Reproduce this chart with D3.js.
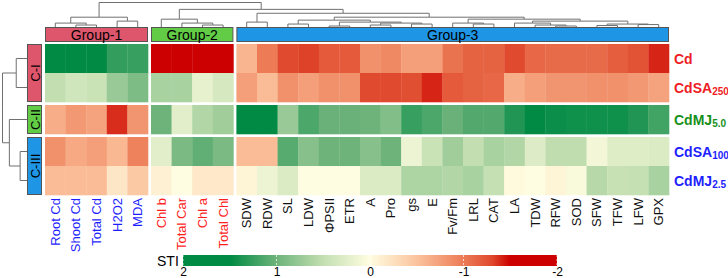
<!DOCTYPE html>
<meta charset="utf-8">
<style>
  body { margin: 0; background: #fff; }
  svg text { font-family: "Liberation Sans", Arial, sans-serif; }
  .dendro { fill: none; stroke: #707070; stroke-width: 1; }
</style>
<body>
<svg width="728" height="278"></svg>

<script src="https://cdn.jsdelivr.net/npm/d3@7/dist/d3.min.js"></script>
<script>

// column groups (traits)
var group1 = ["Root Cd", "Shoot Cd", "Total Cd", "H2O2", "MDA"];
var group2 = ["Chl b", "Total Car", "Chl a", "Total Chl"];
var group3 = ["SDW", "RDW", "SL", "LDW", "ΦPSII", "ETR", "A", "Pro", "gs", "E",
              "Fv/Fm", "LRL", "CAT", "LA", "TDW", "RFW", "SOD", "SFW", "TFW", "LFW", "GPX"];
var groupNames = ["Group-1", "Group-2", "Group-3"];

// rows (treatments) and their clusters
var rowNames = ["Cd", "CdSA250", "CdMJ5.0", "CdSA100", "CdMJ2.5"];
var rowBase  = ["Cd", "CdSA", "CdMJ", "CdSA", "CdMJ"];
var rowSub   = ["", "250", "5.0", "100", "2.5"];
var rowCluster = ["C-I", "C-I", "C-II", "C-III", "C-III"];
var clusterNames = ["C-I", "C-II", "C-III"];

// STI values, one array per treatment, in column order group1, group2, group3
var valCd      = [2, 2, 2, 1.27, 1.25,  -2, -2, -2, -2,
                  -0.6, -1.0, -1.3, -1.32, -1.2, -1.2, -0.85, -0.9, -0.75, -0.75, -1.05,
                  -1.15, -1.15, -1.3, -1.12, -1.1, -1.1, -1.1, -1.18, -1.25, -1.4];
var valCdSA250 = [0.5, 0.4, 0.45, 0.75, 0.9,  0.65, 0.65, 0.2, 0.35,
                  -0.75, -0.55, -0.85, -0.75, -0.85, -0.85, -1.3, -1.3, -1.27, -1.4, -1.2,
                  -1.15, -1.12, -0.65, -0.75, -0.82, -0.82, -0.85, -0.85, -0.8, -0.72];
var valCdMJ50  = [-0.65, -0.8, -0.72, -1.38, -0.82,  1.0, 0.25, 0.6, 0.7,
                  2, 2, 0.75, 1.15, 1.02, 1.02, 1.0, 0.88, 1.25, 1.15, 1.02,
                  1.12, 1.12, 1.35, 1.6, 1.45, 1.43, 1.43, 1.43, 1.35, 1.2];
var valCdSA100 = [-0.85, -0.68, -0.75, -0.58, -0.95,  0.25, 0.92, 1.05, 0.92,
                  -0.55, -0.55, 1.1, 0.85, 1.0, 1.0, 0.85, 1.0, 0.15, 0.45, 0.7,
                  0.5, 0.65, 0.6, 0.28, 0.52, 0.52, 0.1, 0.27, 0.27, 0.3];
var valCdMJ25  = [-0.55, -0.55, -0.55, -0.2, -0.45,  -0.1, 0, -0.18, -0.18,
                  -0.07, 0.15, 0.3, 0, 0, 0, 0.3, 0.3, 0.63, 0.63, 0.6,
                  0.65, 0.48, -0.03, 0, -0.08, 0.05, 0.57, 0.47, 0.48, 0.65];
var values = [valCd, valCdSA250, valCdMJ50, valCdSA100, valCdMJ25];

// legend ticks
var legendTicks = [2, 1, 0, -1, -2];

// dendrograms: n(height, left, right), leaves are names
function n(h, a, b) { return {h: h, c: [a, b]}; }

var colTree = n(25,
  n(10, n(4, "Root Cd", n(2, "Shoot Cd", "Total Cd")), n(6, "H2O2", "MDA")),
  n(18,
    n(8, "Chl b", n(4, "Total Car", n(2, "Chl a", "Total Chl"))),
    n(14, n(5, "SDW", "RDW"),
      n(10,
        n(7, n(3, "SL", "LDW"), n(5, n(1, "ΦPSII", "ETR"), n(4, n(2, "A", "Pro"), n(3, "gs", "E")))),
        n(8, n(4, "Fv/Fm", n(3, "LRL", "CAT")),
             n(6, n(4, "LA", n(2, "TDW", n(1, "RFW", "SOD"))),
                  n(3, n(1.5, "SFW", "TFW"), n(2.5, "LFW", "GPX"))))))));

var rowTree = n(25, n(11, "Cd", "CdSA250"), n(18, "CdMJ5.0", n(7, "CdSA100", "CdMJ2.5")));

// colours
var groupColors = ["#de566c", "#62cc46", "#1f95e6"];
var labelColors = ["#1e1eff", "#ff1e1e", "#111111"];
var rowColors = ["#ee1c24", "#ee1c24", "#16901a", "#1e1eff", "#1e1eff"];

var color = d3.scaleLinear()
    .domain([1.5, 1, 0.5, 0, -0.5, -1, -1.3, -1.5])
    .range(["#008a43", "#6db37a", "#c3dfb1", "#fffde1", "#fbc39d", "#ec7b56", "#e04a2e", "#cc0000"])
    .clamp(true);

var svg = d3.select("svg");

// layout
var cols = group1.concat(group2, group3);
var colGroup = cols.map(function(c) {
    return group1.indexOf(c) >= 0 ? 0 : (group2.indexOf(c) >= 0 ? 1 : 2);
});
var cellW = 20.6, cellH = 29, gap = 3;
var heatLeft = 45, heatTop = 44;

var x = d3.scaleBand().domain(cols).range([heatLeft, heatLeft + cols.length * cellW]);
var y = d3.scaleBand().domain(rowNames).range([heatTop, heatTop + rowNames.length * cellH]);

function colX(c) { return x(c) + colGroup[cols.indexOf(c)] * gap; }
function rowY(r) { return y(r) + clusterNames.indexOf(rowCluster[rowNames.indexOf(r)]) * gap; }

// heatmap cells
var cells = [];
rowNames.forEach(function(r, i) {
    cols.forEach(function(c, j) { cells.push({r: r, c: c, v: values[i][j]}); });
});

svg.append("g").selectAll("rect")
    .data(cells)
    .enter().append("rect")
    .attr("x", function(d) { return colX(d.c); })
    .attr("y", function(d) { return rowY(d.r); })
    .attr("width", cellW + 0.3)
    .attr("height", cellH + 0.3)
    .attr("fill", function(d) { return color(d.v); });

// group annotation bars
var groups = [group1, group2, group3];
groups.forEach(function(g, i) {
    var x0 = colX(g[0]), x1 = colX(g[g.length - 1]) + cellW;
    svg.append("rect")
        .attr("x", x0 + 0.5).attr("y", 27.5)
        .attr("width", x1 - x0 - 1).attr("height", 14)
        .attr("fill", groupColors[i]).attr("stroke", "#555");
    svg.append("text")
        .attr("x", (x0 + x1) / 2).attr("y", 35)
        .attr("dy", "0.35em")
        .attr("text-anchor", "middle")
        .style("font-size", "14px")
        .text(groupNames[i]);
});

// row cluster bars
clusterNames.forEach(function(cl, i) {
    var rs = rowNames.filter(function(r, k) { return rowCluster[k] == cl; });
    var y0 = rowY(rs[0]), y1 = rowY(rs[rs.length - 1]) + cellH;
    svg.append("rect")
        .attr("x", 27.5).attr("y", y0 + 0.5)
        .attr("width", 14).attr("height", y1 - y0 - 1)
        .attr("fill", groupColors[i]).attr("stroke", "#555");
    svg.append("text")
        .attr("transform", "translate(35," + ((y0 + y1) / 2) + ") rotate(-90)")
        .attr("dy", "0.35em")
        .attr("text-anchor", "middle")
        .style("font-size", "13px")
        .text(cl);
});

// column labels
svg.append("g").selectAll("text")
    .data(cols)
    .enter().append("text")
    .attr("transform", function(d) { return "translate(" + (colX(d) + cellW / 2) + ",198) rotate(-90)"; })
    .attr("dy", "0.35em")
    .attr("text-anchor", "end")
    .style("font-size", "13px")
    .attr("fill", function(d, i) { return labelColors[colGroup[i]]; })
    .text(function(d) { return d; });

// row labels with subscripts
rowNames.forEach(function(r, i) {
    var t = svg.append("text")
        .attr("x", 674)
        .attr("y", rowY(r) + cellH / 2 + 5)
        .attr("fill", rowColors[i])
        .style("font-size", "14px")
        .style("font-weight", "bold");
    t.append("tspan").text(rowBase[i]);
    t.append("tspan").attr("dy", 2).style("font-size", "10px").text(rowSub[i]);
});

// dendrograms
function layoutTree(node, pos) {
    if (typeof node == "string") return {p: pos(node), h: 0};
    var a = layoutTree(node.c[0], pos), b = layoutTree(node.c[1], pos);
    node.p = (a.p + b.p) / 2;
    node.kids = [a, b];
    return {p: node.p, h: node.h, node: node};
}

function drawTree(g, node, horiz, hs) {
    if (!node.node) return;
    var nd = node.node;
    nd.kids.forEach(function(k) {
        var pts = horiz
            ? [[k.p, hs(k.h)], [k.p, hs(nd.h)], [nd.p, hs(nd.h)]]
            : [[hs(k.h), k.p], [hs(nd.h), k.p], [hs(nd.h), nd.p]];
        g.append("path").attr("class", "dendro").attr("d", d3.line()(pts));
        drawTree(g, k, horiz, hs);
    });
}

var colDendro = layoutTree(colTree, function(c) { return colX(c) + cellW / 2; });
drawTree(svg.append("g"), colDendro, true,
         d3.scaleLinear().domain([0, 25]).range([27, 2.5]));

var rowDendro = layoutTree(rowTree, function(r) { return rowY(r) + cellH / 2; });
drawTree(svg.append("g"), rowDendro, false,
         d3.scaleLinear().domain([0, 25]).range([27, 2.5]));

// legend
var lx = d3.scaleLinear().domain([2, -2]).range([183, 557]);

var grad = svg.append("defs").append("linearGradient")
    .attr("id", "sti")
    .attr("x1", "0%").attr("x2", "100%");
d3.range(2, -2.01, -0.1).forEach(function(v) {
    grad.append("stop")
        .attr("offset", ((2 - v) / 4 * 100) + "%")
        .attr("stop-color", color(v));
});

svg.append("rect")
    .attr("x", lx(2)).attr("y", 255)
    .attr("width", lx(-2) - lx(2)).attr("height", 11)
    .attr("fill", "url(#sti)");

svg.append("g").selectAll("line")
    .data(legendTicks)
    .enter().append("line")
    .attr("x1", lx).attr("x2", lx)
    .attr("y1", 255).attr("y2", 266)
    .attr("stroke", "#fff").attr("stroke-opacity", 0.7)
    .attr("stroke-dasharray", "2,2");

svg.append("text")
    .attr("x", 157).attr("y", 266)
    .style("font-size", "14px")
    .text("STI");

var legendAxis = svg.append("g")
    .attr("transform", "translate(0,265)")
    .call(d3.axisBottom(lx).tickValues(legendTicks)
          .tickSize(0).tickPadding(2)
          .tickFormat(function(d) { return String(d); }));
legendAxis.select(".domain").remove();
legendAxis.selectAll("text")
    .style("font-size", "12px")
    .style("font-family", "Liberation Sans, Arial, sans-serif");

</script>
</body>
